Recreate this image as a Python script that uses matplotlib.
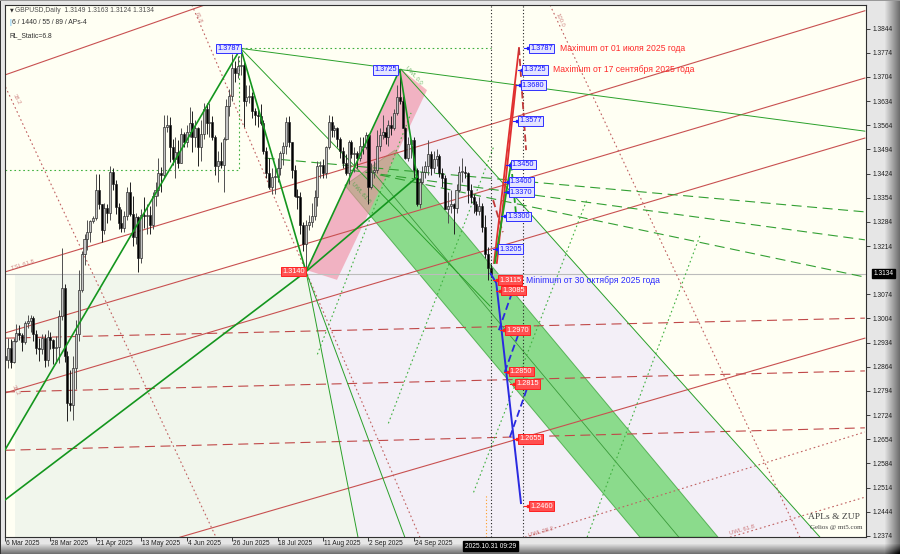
import matplotlib
matplotlib.use('Agg')
import matplotlib.pyplot as plt
import matplotlib.transforms as mtransforms
from matplotlib.patches import Polygon, Rectangle
import numpy as np

plt.rcParams['font.family'] = ['Liberation Sans', 'DejaVu Sans']

# ---------------- data ----------------
date_labels = ['6 Mar 2025', '28 Mar 2025', '21 Apr 2025', '13 May 2025', '4 Jun 2025',
               '26 Jun 2025', '18 Jul 2025', '11 Aug 2025', '2 Sep 2025', '24 Sep 2025']
date_bars = [0, 16, 32, 48, 64, 80, 96, 112, 128, 144]
price_ticks = [1.3844, 1.3774, 1.3704, 1.3634, 1.3564, 1.3494, 1.3424, 1.3354, 1.3284, 1.3214,
               1.3074, 1.3004, 1.2934, 1.2864, 1.2794, 1.2724, 1.2654, 1.2584, 1.2514,
               1.2444, 1.2374]

opens = [1.2895,1.2883,1.2918,1.2878,1.2940,1.2962,1.2955,1.2936,1.2991,1.2997,
         1.3005,1.2960,1.2918,1.2917,1.2946,1.2883,1.2950,1.2942,1.2918,1.2920,
         1.3010,1.3093,1.2895,1.2758,1.2752,1.2860,1.2960,1.3088,1.3190,1.3235,
         1.3255,1.3288,1.3294,1.3375,1.3335,1.3260,1.3325,1.3310,1.3430,1.3395,
         1.3328,1.3280,1.3265,1.3300,1.3370,1.3308,1.3240,1.3297,1.3180,1.3305,
         1.3300,1.3305,1.3275,1.3360,1.3375,1.3425,1.3420,1.3560,1.3565,1.3500,
         1.3465,1.3488,1.3455,1.3540,1.3515,1.3545,1.3570,1.3530,1.3555,1.3500,
         1.3540,1.3610,1.3570,1.3575,1.3530,1.3445,1.3460,1.3450,1.3525,1.3620,
         1.3650,1.3730,1.3715,1.3735,1.3740,1.3635,1.3645,1.3650,1.3605,1.3595,
         1.3590,1.3570,1.3490,1.3425,1.3385,1.3415,1.3415,1.3440,1.3485,1.3505,
         1.3575,1.3515,1.3435,1.3360,1.3355,1.3275,1.3220,1.3275,1.3285,1.3300,
         1.3355,1.3445,1.3450,1.3425,1.3500,1.3575,1.3550,1.3555,1.3525,1.3490,
         1.3455,1.3425,1.3515,1.3480,1.3485,1.3470,1.3505,1.3500,1.3535,1.3385,
         1.3430,1.3435,1.3505,1.3535,1.3545,1.3530,1.3565,1.3555,1.3600,1.3645,
         1.3635,1.3555,1.3470,1.3510,1.3520,1.3435,1.3335,1.3400,1.3430,1.3445,
         1.3480,1.3440,1.3465,1.3475,1.3425,1.3410,1.3320,1.3330,1.3335,1.3325,
         1.3375,1.3430,1.3430,1.3425,1.3375,1.3355,1.3335,1.3315,1.3330,1.3270,
         1.3190,1.3149]
highs = [1.2921,1.2947,1.2945,1.2947,1.2988,1.2985,1.2963,1.2996,1.3014,1.3014,
         1.3012,1.2970,1.2948,1.2960,1.2960,1.2970,1.2966,1.2945,1.2953,1.3030,
         1.3207,1.3104,1.2910,1.2855,1.2895,1.3000,1.3145,1.3200,1.3250,1.3290,
         1.3290,1.3300,1.3424,1.3423,1.3337,1.3340,1.3336,1.3445,1.3440,1.3404,
         1.3338,1.3320,1.3315,1.3385,1.3400,1.3360,1.3310,1.3300,1.3320,1.3357,
         1.3335,1.3330,1.3370,1.3400,1.3468,1.3443,1.3593,1.3593,1.3589,1.3525,
         1.3530,1.3520,1.3555,1.3545,1.3565,1.3616,1.3605,1.3580,1.3560,1.3580,
         1.3630,1.3630,1.3630,1.3590,1.3535,1.3490,1.3515,1.3530,1.3640,1.3670,
         1.3770,1.3750,1.3765,1.3788,1.3750,1.3680,1.3680,1.3660,1.3615,1.3615,
         1.3625,1.3580,1.3500,1.3470,1.3440,1.3440,1.3470,1.3490,1.3515,1.3588,
         1.3590,1.3515,1.3450,1.3380,1.3370,1.3285,1.3290,1.3305,1.3340,1.3375,
         1.3460,1.3460,1.3465,1.3505,1.3595,1.3590,1.3565,1.3560,1.3530,1.3500,
         1.3480,1.3520,1.3520,1.3500,1.3490,1.3530,1.3530,1.3545,1.3540,1.3455,
         1.3460,1.3550,1.3555,1.3595,1.3560,1.3580,1.3590,1.3610,1.3680,1.3725,
         1.3650,1.3560,1.3530,1.3525,1.3530,1.3440,1.3410,1.3445,1.3460,1.3520,
         1.3490,1.3490,1.3495,1.3480,1.3440,1.3420,1.3370,1.3375,1.3340,1.3395,
         1.3445,1.3470,1.3445,1.3430,1.3395,1.3365,1.3345,1.3355,1.3340,1.3305,
         1.3210,1.3163]
lows = [1.2861,1.2860,1.2860,1.2874,1.2936,1.2943,1.2910,1.2930,1.2975,1.2964,
        1.2940,1.2900,1.2880,1.2902,1.2862,1.2865,1.2915,1.2872,1.2876,1.2875,
        1.3000,1.2878,1.2708,1.2737,1.2711,1.2800,1.2940,1.3080,1.3160,1.3202,
        1.3225,1.3280,1.3290,1.3320,1.3225,1.3250,1.3280,1.3290,1.3376,1.3307,
        1.3262,1.3256,1.3255,1.3290,1.3300,1.3214,1.3220,1.3139,1.3165,1.3265,
        1.3250,1.3250,1.3262,1.3330,1.3360,1.3370,1.3410,1.3545,1.3457,1.3450,
        1.3410,1.3440,1.3455,1.3500,1.3500,1.3530,1.3486,1.3500,1.3445,1.3460,
        1.3525,1.3540,1.3530,1.3520,1.3420,1.3400,1.3440,1.3370,1.3520,1.3590,
        1.3635,1.3690,1.3700,1.3710,1.3560,1.3620,1.3630,1.3585,1.3565,1.3560,
        1.3565,1.3480,1.3410,1.3380,1.3365,1.3365,1.3400,1.3420,1.3450,1.3480,
        1.3500,1.3410,1.3355,1.3320,1.3250,1.3200,1.3140,1.3260,1.3270,1.3290,
        1.3330,1.3410,1.3410,1.3410,1.3495,1.3530,1.3530,1.3500,1.3470,1.3440,
        1.3420,1.3395,1.3470,1.3430,1.3440,1.3460,1.3480,1.3495,1.3335,1.3380,
        1.3410,1.3425,1.3490,1.3525,1.3510,1.3505,1.3535,1.3550,1.3595,1.3625,
        1.3555,1.3465,1.3460,1.3470,1.3410,1.3330,1.3325,1.3395,1.3410,1.3420,
        1.3420,1.3425,1.3445,1.3415,1.3385,1.3320,1.3280,1.3310,1.3250,1.3310,
        1.3370,1.3400,1.3410,1.3340,1.3340,1.3310,1.3305,1.3305,1.3255,1.3180,
        1.3115,1.3124]
closes = [1.2883,1.2918,1.2878,1.2940,1.2962,1.2955,1.2936,1.2991,1.2997,1.3005,
          1.2960,1.2918,1.2917,1.2946,1.2883,1.2950,1.2942,1.2918,1.2920,1.3010,
          1.3093,1.2895,1.2758,1.2752,1.2860,1.2960,1.3088,1.3190,1.3235,1.3255,
          1.3288,1.3294,1.3375,1.3335,1.3260,1.3325,1.3310,1.3430,1.3395,1.3328,
          1.3280,1.3265,1.3300,1.3370,1.3308,1.3240,1.3297,1.3180,1.3305,1.3300,
          1.3305,1.3275,1.3360,1.3375,1.3425,1.3420,1.3560,1.3565,1.3500,1.3465,
          1.3488,1.3455,1.3540,1.3515,1.3545,1.3570,1.3530,1.3555,1.3500,1.3540,
          1.3610,1.3570,1.3575,1.3530,1.3445,1.3460,1.3450,1.3525,1.3620,1.3650,
          1.3730,1.3715,1.3735,1.3740,1.3635,1.3645,1.3650,1.3605,1.3595,1.3590,
          1.3570,1.3490,1.3425,1.3385,1.3415,1.3415,1.3440,1.3485,1.3505,1.3575,
          1.3515,1.3435,1.3360,1.3355,1.3275,1.3220,1.3275,1.3285,1.3300,1.3355,
          1.3445,1.3450,1.3425,1.3500,1.3575,1.3550,1.3555,1.3525,1.3490,1.3455,
          1.3425,1.3515,1.3480,1.3485,1.3470,1.3505,1.3500,1.3535,1.3385,1.3430,
          1.3435,1.3505,1.3535,1.3545,1.3530,1.3565,1.3555,1.3600,1.3645,1.3635,
          1.3555,1.3470,1.3510,1.3520,1.3435,1.3335,1.3400,1.3430,1.3445,1.3480,
          1.3440,1.3465,1.3475,1.3425,1.3410,1.3320,1.3330,1.3335,1.3325,1.3375,
          1.3430,1.3430,1.3425,1.3375,1.3355,1.3335,1.3315,1.3330,1.3270,1.3190,
          1.3150,1.3134]

current_price = 1.3134
current_bar = 171

# trend / channel lines as (bar, price) polylines
red_channel = [[(0, 1.3139), (302.8, 1.3896)], [(0, 1.2962), (302.8, 1.3701)],
               [(0, 1.2788), (302.8, 1.3527)], [(61.6, 1.2370), (302.8, 1.2947)],
               [(0, 1.3710), (70.4, 1.3913)]]
red_dashed = [[(0, 1.2947), (302.8, 1.3005)], [(0, 1.2791), (302.8, 1.2852)],
              [(0, 1.2622), (302.8, 1.2687)]]
red_dotted = [[(-1.8, 1.3710), (74.3, 1.2370)], [(65.8, 1.3913), (146.1, 1.2370)],
              [(191.9, 1.3913), (279.9, 1.2370)], [(183.1, 1.2370), (302.8, 1.2675)],
              [(255.3, 1.2370), (302.8, 1.2486)]]
zigzag = [[(0, 1.2623), (83, 1.3787), (106, 1.3140), (139, 1.3725), (145.1, 1.3414)],
          [(0, 1.2478), (106, 1.3140), (145.1, 1.3414)]]
green_thin = [[(83, 1.3787), (302.8, 1.3547)], [(83, 1.3787), (170.8, 1.3040)],
              [(139.4, 1.3727), (287, 1.2370)], [(106, 1.3140), (124.3, 1.2370)],
              [(106, 1.3140), (140.8, 1.2370)]]
green_dashed = [[(91.5, 1.3469), (302.8, 1.3313)], [(121.5, 1.3434), (302.8, 1.3232)],
                [(132, 1.3420), (302.8, 1.3124)]]
green_dotted = [[(0, 1.3434), (82.4, 1.3434), (82.4, 1.3787)], [(83, 1.3787), (171, 1.3787)],
                [(110, 1.2900), (143, 1.3600)], [(135, 1.2700), (172, 1.3500)],
                [(165, 1.2500), (205, 1.3350)], [(205, 1.2370), (245, 1.3250)]]
band = [(119.7, 1.3390), (137.3, 1.3492), (251.1, 1.2370), (223.6, 1.2370)]
band_mid = [(128.5, 1.3440), (237.3, 1.2370)]
pink_band = [(106.3, 1.3144), (139.4, 1.3727), (148.6, 1.3666), (116.9, 1.3116)]
lavender_zone = [(139.4, 1.3727), (287, 1.2370), (124.3, 1.2370), (106, 1.3140)]

proj_red_solid = [[(172.2, 1.3165), (181, 1.3788)], [(173.2, 1.3165), (179.9, 1.3680)]]
proj_red_dashed = [[(181, 1.3788), (183.5, 1.3492)], [(171.9, 1.3347), (175.3, 1.3254)]]
proj_green_solid = [[(172.5, 1.3165), (178.2, 1.3454)]]
proj_green_dashed = [[(178.2, 1.3454), (180, 1.3303)]]
proj_blue_solid = [[(171, 1.3134), (173, 1.3107), (181.7, 1.2469)]]
proj_blue_dashed = [[(173.9, 1.2970), (178.8, 1.3085)], [(176, 1.2849), (181.3, 1.2970)],
                    [(177.8, 1.2660), (184.9, 1.2826)]]

blue_levels = [1.3787, 1.3725, 1.3680, 1.3577, 1.3450, 1.3400, 1.3370, 1.3300, 1.3205]
blue_level_bars = [184.9, 182.7, 182.0, 181.0, 178.5, 177.8, 177.8, 176.8, 174.0]
red_levels = [1.3115, 1.3085, 1.2970, 1.2850, 1.2815, 1.2655, 1.2460]
red_level_bars = [174.0, 175.0, 176.4, 177.8, 180.0, 181.0, 184.9]
pivot_labels = ['1.3787', '1.3725', '1.3140']
pivot_bars = [82.6, 138.0, 105.6]
pivot_prices = [1.3787, 1.3725, 1.3140]
pivot_colors = ['blue', 'blue', 'red']

notes = ['Maximum от 01 июля 2025 года', 'Maximum от 17 сентября 2025 года',
         'Minimum от 30 октября 2025 года']
note_bars = [195.4, 193.0, 183.5]
note_prices = [1.3787, 1.3725, 1.3115]
note_colors = ['#ff2a2a', '#ff2a2a', '#2a2aff']

# ---------------- figure ----------------
W, H = 900, 554
fig = plt.figure(figsize=(9, 5.54), dpi=100)

bg = fig.add_axes([0, 0, 1, 1], zorder=-10)
img = np.full((H, W), 0.90)
xr = np.clip((np.arange(W) - 884) / 16.0, 0, 1)
yr = np.clip((np.arange(H) - 543) / 11.0, 0, 1)
img = img - 0.5 * xr[None, :] - 0.5 * yr[:, None]
img[:, :1] = 0.2
img[:1, :] = 0.6
bg.imshow(np.clip(img, 0, 1), cmap='gray', vmin=0, vmax=1, aspect='auto',
          extent=[0, 1, 0, 1], interpolation='bilinear')
bg.set_axis_off()

ax = fig.add_axes([5 / W, 17 / H, 861 / W, 532 / H])
ax.set_xlim(0, 303.2)
ax.set_ylim(1.23706, 1.39127)
ax.set_facecolor('#fffff3')


def line(pts, **kw):
    xs = [p[0] for p in pts]
    ys = [p[1] for p in pts]
    ax.plot(xs, ys, **kw)


# shaded zones
ax.add_patch(Rectangle((3.5, 1.2300), current_bar - 3.5, current_price - 1.2300,
                       fc='#f1f6ec', ec='none', zorder=0))
ax.add_patch(Polygon(lavender_zone, closed=True, fc='#f3eff7', ec='none', zorder=0.2))
ax.add_patch(Polygon(band, closed=True, fc='#5fd35f', alpha=0.7, ec='#2f9f2f', lw=0.7, zorder=0.5))
line(band_mid, color='#3a9a3a', lw=0.6, zorder=0.6)
ax.add_patch(Polygon(pink_band, closed=True, fc='#f08aa0', alpha=0.6, ec='none', zorder=0.55))

# price line
ax.axhline(current_price, color='#bcbcbc', lw=0.8, zorder=0.7)

for pts in red_channel:
    line(pts, color='#c85050', lw=0.8, zorder=1)
for pts in red_dashed:
    line(pts, color='#c04848', lw=0.8, ls=(0, (9, 5)), zorder=1)
for pts in red_dotted:
    line(pts, color='#c06060', lw=0.8, ls=(0, (1.5, 2.5)), zorder=1)
for pts in green_dashed:
    line(pts, color='#33a033', lw=0.8, ls=(0, (9, 5)), zorder=1)
for pts in green_dotted:
    line(pts, color='#40b040', lw=0.8, ls=(0, (1.5, 2.5)), zorder=1)
for pts in green_thin:
    line(pts, color='#2aa02a', lw=0.7, zorder=1)

# candles
for i in range(len(closes)):
    o, h, l, c = opens[i], highs[i], lows[i], closes[i]
    bull = c >= o
    ax.vlines(i, l, h, color='#202020' if not bull else '#505050', lw=0.7, zorder=2)
    body_lo = min(o, c)
    body_h = max(abs(c - o), 0.00006)
    ax.add_patch(Rectangle((i - 0.36, body_lo), 0.72, body_h,
                           fc='#c4c4c4' if bull else '#000000',
                           ec='#202020', lw=0.45, zorder=2.1))

for pts in zigzag:
    line(pts, color='#14961e', lw=1.2, zorder=3)

# vertical markers
ax.axvline(current_bar, color='#202020', lw=0.8, ls=(0, (1, 2)), zorder=3)
ax.axvline(182.4, color='#202020', lw=0.8, ls=(0, (1, 2)), zorder=3)
ax.plot([169.4, 169.4], [1.2370, 1.2493], color='#ff9a20', lw=0.8, ls=(0, (1, 2)), zorder=3)

# projections
for pts in proj_red_solid:
    line(pts, color='#e03030', lw=1.3, zorder=4)
for pts in proj_red_dashed:
    line(pts, color='#c03a3a', lw=1.3, ls=(0, (4, 2)), zorder=4)
for pts in proj_green_solid:
    line(pts, color='#20a020', lw=1.3, zorder=4)
for pts in proj_green_dashed:
    line(pts, color='#20a020', lw=1.3, ls=(0, (4, 2)), zorder=4)
for pts in proj_blue_solid:
    line(pts, color='#2a2ae0', lw=1.4, zorder=4)
for pts in proj_blue_dashed:
    line(pts, color='#2a2ae0', lw=1.3, ls=(0, (4, 2)), zorder=4)

# level boxes
def level_box(b, p, txt, col, ha='left'):
    if col == 'blue':
        tc, fc, ec = '#1414ff', '#e4e4ff', '#3030ff'
    else:
        tc, fc, ec = '#ffffff', '#ff5050', '#ff2020'
    ax.text(b, p, txt, fontsize=5.3, color=tc, ha=ha, va='center', zorder=6,
            bbox=dict(boxstyle='square,pad=0.18', fc=fc, ec=ec, lw=0.7))


for p, b in zip(blue_levels, blue_level_bars):
    level_box(b, p, '%.4f' % p, 'blue')
    ax.plot([b - 2.2, b - 0.6], [p, p], color='#2020ff', lw=0.8, zorder=5)
    ax.plot([b - 0.6], [p], marker='s', ms=1.6, color='#2020ff', zorder=5)
for p, b in zip(red_levels, red_level_bars):
    level_box(b, p, '%.4f' % p, 'red')
    ax.plot([b - 2.2, b - 0.6], [p, p], color='#ff2020', lw=0.8, zorder=5)
    ax.plot([b - 0.6], [p], marker='s', ms=1.6, color='#ff2020', zorder=5)
for t, b, p, c in zip(pivot_labels, pivot_bars, pivot_prices, pivot_colors):
    level_box(b, p, t, c, ha='right')

for t, b, p, c in zip(notes, note_bars, note_prices, note_colors):
    ax.text(b, p, t, fontsize=6.2, color=c, ha='left', va='center', zorder=6)

# small faded line labels
small = [('TSL 61.8', 2, 1.3160, 18, '#c06060'), ('38.2', 2.5, 1.3640, -62, '#c06060'),
         ('61.8', 66.5, 1.3875, -66, '#c06060'), ('100.0', 193.5, 1.3870, -66, '#c06060'),
         ('UWL 0.0', 140.5, 1.3710, -48, '#40a040'), ('UWL 61.8', 121.5, 1.3370, -48, '#40a040'),
         ('UWL 38.2', 184, 1.2385, 16, '#c05050'), ('UWL 61.8', 255, 1.2390, 16, '#c05050'),
         ('38.2', 2, 1.2795, -62, '#c06060')]
for t, b, p, r, c in small:
    ax.text(b, p, t, fontsize=4.2, color=c, alpha=0.75, rotation=r, ha='left', va='center', zorder=1.5)

# axes styling
for s in ax.spines.values():
    s.set_color('#303030')
    s.set_linewidth(0.8)
ax.yaxis.tick_right()
ax.set_yticks(price_ticks)
ax.set_yticklabels(['%.4f' % v for v in price_ticks])
ax.tick_params(axis='y', direction='out', length=3, width=0.6, labelsize=4.8, pad=2,
               colors='#202020')
ax.set_xticks(date_bars)
ax.set_xticklabels([])
ax.tick_params(axis='x', direction='out', length=3, width=0.6, colors='#202020')
trans_x = mtransforms.blended_transform_factory(ax.transData, ax.transAxes)
for b, t in zip(date_bars, date_labels):
    ax.text(b + 0.3, -0.006, t, transform=trans_x, fontsize=4.8, color='#202020',
            ha='left', va='top', clip_on=False)
ax.text(current_bar, -0.0105, '2025.10.31 09:29', transform=trans_x, fontsize=4.8,
        color='white', ha='center', va='top', clip_on=False,
        bbox=dict(boxstyle='square,pad=0.25', fc='black', ec='black'), zorder=10)
trans_y = mtransforms.blended_transform_factory(ax.transAxes, ax.transData)
ax.text(1.0085, current_price, '%.4f' % current_price, transform=trans_y, fontsize=4.8,
        color='white', ha='left', va='center', clip_on=False,
        bbox=dict(boxstyle='square,pad=0.2', fc='black', ec='black'), zorder=10)

# header and watermark
fig.text(10 / W, 1 - 10 / H, '▼', fontsize=3.5, color='#303030', va='center', family='DejaVu Sans')
fig.text(15 / W, 1 - 10 / H, 'GBPUSD,Daily  1.3149 1.3163 1.3124 1.3134', fontsize=4.9,
         color='#505050', va='center')
fig.text(12 / W, 1 - 23 / H, '6 / 1440 / 55 / 89 / APs-4', fontsize=4.9, color='#303030', va='center')
fig.text(9.5 / W, 1 - 23 / H, '|', fontsize=5, color='#40b0ff', va='center')
fig.text(9 / W, 1 - 36 / H, 'RL_Static=6.8', fontsize=4.9, color='#303030', va='center')
fig.text(860 / W, 1 - 517 / H, 'APLs & ZUP', fontsize=6.8, color='#404040', ha='right',
         va='center', family=['Liberation Serif', 'DejaVu Serif'])
fig.text(862 / W, 1 - 528 / H, 'Gelios @ mt5.com', fontsize=5, color='#404040', ha='right',
         va='center', family=['Liberation Serif', 'DejaVu Serif'])

fig.savefig('out.png', dpi=100)
